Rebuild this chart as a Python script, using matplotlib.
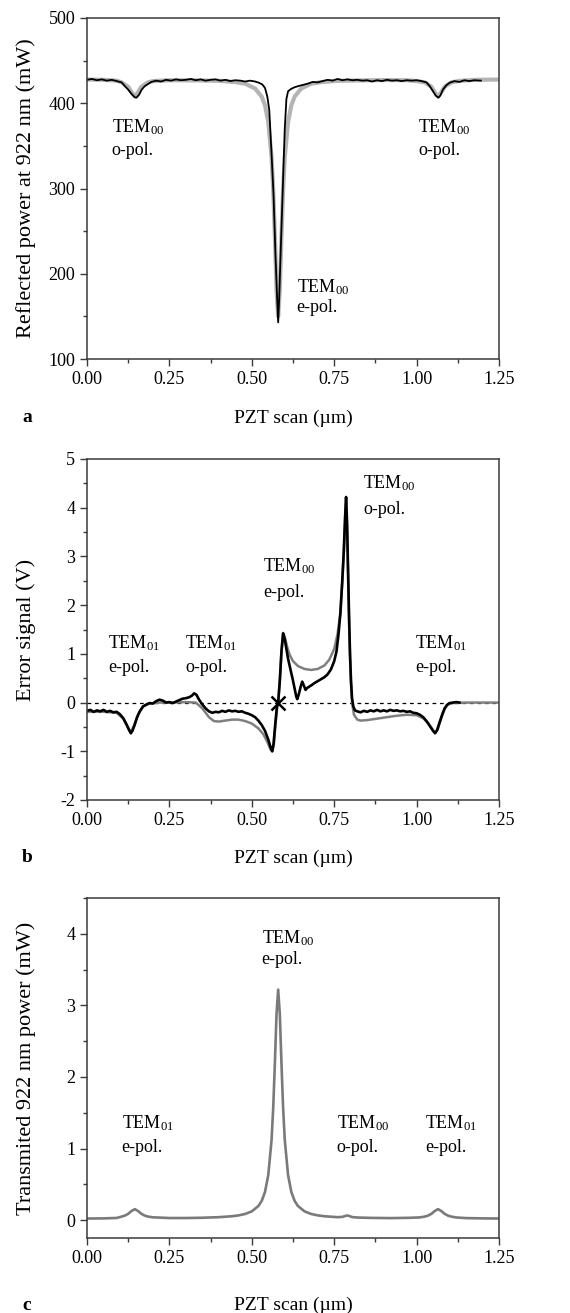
import matplotlib
matplotlib.use("Agg")
import matplotlib.pyplot as plt
from matplotlib.ticker import MultipleLocator, FormatStrFormatter

plt.rcParams['font.family'] = ['Liberation Serif', 'DejaVu Serif']
plt.rcParams['mathtext.fontset'] = 'custom'
plt.rcParams['mathtext.rm'] = 'Liberation Serif'
plt.rcParams['mathtext.it'] = 'Liberation Serif:italic'
plt.rcParams['mathtext.default'] = 'rm'

# ---------------- Panel a: reflected power ----------------
xa_exp = [0.000, 0.015, 0.030, 0.045, 0.060, 0.075, 0.090, 0.105, 0.115, 0.125, 0.135, 0.145, 0.150,
          0.158, 0.166, 0.175, 0.185, 0.195, 0.210, 0.225, 0.240, 0.255, 0.270, 0.285, 0.300, 0.315,
          0.330, 0.345, 0.360, 0.375, 0.390, 0.405, 0.420, 0.435, 0.450, 0.465, 0.480, 0.495, 0.510,
          0.522, 0.532, 0.540, 0.547, 0.553, 0.560, 0.566, 0.572, 0.577, 0.580, 0.583, 0.588, 0.594,
          0.600, 0.605, 0.610, 0.618, 0.628, 0.640, 0.655, 0.670, 0.685, 0.700, 0.715, 0.730, 0.745,
          0.760, 0.775, 0.790, 0.805, 0.820, 0.835, 0.850, 0.865, 0.880, 0.895, 0.910, 0.925, 0.940,
          0.955, 0.970, 0.985, 1.000, 1.015, 1.030, 1.040, 1.050, 1.058, 1.066, 1.072, 1.080, 1.090,
          1.100, 1.115, 1.130, 1.145, 1.160, 1.175, 1.195]
ya_exp = [427.5, 428.5, 427.0, 428.0, 426.5, 427.5, 426.0, 424.5, 420.0, 416.0, 411.0, 407.0, 406.5,
          410.0, 416.0, 420.0, 422.5, 425.0, 426.5, 425.5, 427.5, 426.5, 428.0, 427.0, 427.5, 428.5,
          427.0, 428.0, 426.5, 427.5, 428.0, 426.5, 427.5, 426.0, 427.0, 426.5, 425.5, 426.5, 425.5,
          424.0, 422.0, 418.0, 408.0, 392.0, 340.0, 292.0, 220.0, 170.0, 143.0, 170.0, 230.0, 300.0,
          370.0, 405.0, 414.0, 416.5, 418.5, 420.0, 421.5, 423.0, 425.0, 424.5, 426.0, 427.5, 426.5,
          428.5, 427.0, 428.0, 427.0, 427.5, 426.5, 427.0, 425.5, 427.0, 426.0, 427.5, 426.5, 427.0,
          426.0, 427.0, 426.5, 427.0, 426.0, 424.5, 420.0, 414.0, 409.0, 406.5, 409.0, 416.0, 421.0,
          424.0, 426.0, 425.0, 427.0, 426.0, 427.0, 426.5]

xa_fit = [0.00, 0.05, 0.09, 0.105, 0.125, 0.135, 0.145, 0.155, 0.165, 0.185, 0.20, 0.25, 0.33, 0.40,
          0.45, 0.48, 0.51, 0.53, 0.54, 0.55, 0.56, 0.565, 0.57, 0.575, 0.58, 0.585, 0.59, 0.595, 0.60,
          0.61, 0.62, 0.63, 0.65, 0.68, 0.71, 0.76, 0.83, 0.90, 0.97, 1.00, 1.025, 1.045, 1.055, 1.065,
          1.075, 1.085, 1.105, 1.13, 1.18, 1.25]
ya_fit = [427.8, 427.5, 426.5, 424.5, 419.3, 413.0, 408.0, 413.0, 419.3, 424.5, 426.0, 427.0, 426.8,
          426.3, 424.8, 422.9, 417.3, 407.8, 397.7, 378.0, 336.6, 298.5, 244.0, 181.0, 150.0, 181.0,
          244.0, 298.5, 336.6, 378.0, 397.7, 407.8, 417.3, 422.9, 424.8, 426.3, 426.8, 427.2, 427.0,
          426.0, 424.5, 419.3, 413.0, 408.0, 413.0, 419.3, 424.5, 426.3, 427.5, 427.8]

# ---------------- Panel b: error signal ----------------
xb_exp = [0.00, 0.01, 0.02, 0.03, 0.04, 0.05, 0.06, 0.07, 0.08, 0.09, 0.10, 0.11, 0.12, 0.128, 0.133,
          0.138, 0.145, 0.152, 0.16, 0.17, 0.18, 0.19, 0.20, 0.21, 0.22, 0.23, 0.24, 0.25, 0.26, 0.27,
          0.28, 0.29, 0.30, 0.31, 0.318, 0.325, 0.332, 0.34, 0.35, 0.36, 0.37, 0.38, 0.39, 0.40, 0.41,
          0.42, 0.43, 0.44, 0.45, 0.46, 0.47, 0.48, 0.49, 0.50, 0.51, 0.52, 0.53, 0.54, 0.55, 0.557,
          0.562, 0.566, 0.571, 0.576, 0.580, 0.585, 0.590, 0.595, 0.60, 0.605, 0.61, 0.615, 0.62, 0.625,
          0.63, 0.635, 0.638, 0.643, 0.648, 0.653, 0.658, 0.663, 0.668, 0.675, 0.682, 0.69, 0.70, 0.71,
          0.72, 0.73, 0.74, 0.75, 0.757, 0.763, 0.769, 0.774, 0.779, 0.783, 0.786, 0.789, 0.792, 0.795,
          0.798, 0.801, 0.804, 0.808, 0.813, 0.82, 0.83, 0.84, 0.85, 0.86, 0.87, 0.88, 0.89, 0.90, 0.91,
          0.92, 0.93, 0.94, 0.95, 0.96, 0.97, 0.98, 0.99, 1.00, 1.01, 1.02, 1.03, 1.04, 1.05, 1.056,
          1.062, 1.07, 1.078, 1.085, 1.092, 1.10, 1.11, 1.12, 1.13]
yb_exp = [-0.17, -0.15, -0.19, -0.16, -0.18, -0.15, -0.19, -0.17, -0.20, -0.19, -0.24, -0.32, -0.45,
          -0.57, -0.63, -0.58, -0.45, -0.30, -0.18, -0.08, -0.04, -0.01, -0.02, 0.03, 0.06, 0.04, 0.00,
          0.01, -0.01, 0.02, 0.05, 0.08, 0.09, 0.11, 0.14, 0.19, 0.16, 0.06, -0.04, -0.12, -0.18, -0.21,
          -0.19, -0.20, -0.17, -0.19, -0.16, -0.18, -0.17, -0.19, -0.18, -0.21, -0.23, -0.26, -0.30,
          -0.37, -0.46, -0.58, -0.76, -0.92, -1.00, -0.85, -0.45, -0.10, 0.00, 0.45, 1.05, 1.42, 1.30,
          1.10, 0.90, 0.75, 0.60, 0.45, 0.28, 0.12, 0.07, 0.18, 0.32, 0.43, 0.35, 0.26, 0.30, 0.33,
          0.36, 0.40, 0.44, 0.48, 0.52, 0.58, 0.68, 0.85, 1.05, 1.40, 1.85, 2.45, 3.10, 3.80, 4.22,
          3.70, 2.70, 1.80, 1.00, 0.45, 0.10, -0.08, -0.16, -0.18, -0.20, -0.17, -0.19, -0.16, -0.18,
          -0.15, -0.18, -0.16, -0.18, -0.15, -0.17, -0.16, -0.18, -0.17, -0.19, -0.18, -0.21, -0.22,
          -0.25, -0.30, -0.38, -0.48, -0.58, -0.63, -0.57, -0.40, -0.24, -0.12, -0.05, -0.01, 0.00,
          0.01, 0.00]

xb_fit = [0.00, 0.05, 0.09, 0.11, 0.125, 0.133, 0.142, 0.155, 0.17, 0.19, 0.22, 0.26, 0.30, 0.33,
          0.35, 0.37, 0.385, 0.40, 0.42, 0.44, 0.46, 0.48, 0.50, 0.52, 0.535, 0.548, 0.557, 0.562,
          0.567, 0.572, 0.577, 0.580, 0.585, 0.590, 0.595, 0.60, 0.607, 0.615, 0.625, 0.64, 0.66,
          0.68, 0.70, 0.72, 0.735, 0.75, 0.76, 0.768, 0.775, 0.78, 0.784, 0.786, 0.789, 0.792, 0.796,
          0.80, 0.804, 0.81, 0.82, 0.83, 0.85, 0.88, 0.91, 0.94, 0.97, 1.00, 1.02, 1.035, 1.048,
          1.056, 1.064, 1.075, 1.085, 1.095, 1.11, 1.15, 1.25]
yb_fit = [-0.19, -0.19, -0.21, -0.33, -0.52, -0.60, -0.48, -0.25, -0.08, -0.02, 0.00, 0.00, 0.01,
          0.00, -0.12, -0.30, -0.38, -0.39, -0.37, -0.35, -0.35, -0.38, -0.43, -0.53, -0.65, -0.82,
          -0.97, -1.00, -0.85, -0.45, -0.10, 0.00, 0.45, 1.05, 1.43, 1.35, 1.15, 0.98, 0.85, 0.75,
          0.69, 0.67, 0.69, 0.76, 0.88, 1.10, 1.40, 1.80, 2.50, 3.20, 3.90, 4.10, 3.60, 2.60, 1.40,
          0.50, 0.00, -0.25, -0.35, -0.37, -0.36, -0.33, -0.30, -0.27, -0.25, -0.26, -0.32, -0.42,
          -0.55, -0.62, -0.55, -0.32, -0.13, -0.04, -0.01, 0.00, 0.00]
lock_point = (0.58, 0.0)

# ---------------- Panel c: transmitted power ----------------
xc = [0.00, 0.05, 0.09, 0.105, 0.115, 0.125, 0.135, 0.145, 0.155, 0.165, 0.175, 0.185, 0.20, 0.25,
      0.30, 0.35, 0.40, 0.44, 0.46, 0.48, 0.50, 0.52, 0.53, 0.54, 0.55, 0.56, 0.565, 0.57, 0.575,
      0.58, 0.585, 0.59, 0.595, 0.60, 0.61, 0.62, 0.63, 0.64, 0.66, 0.68, 0.70, 0.72, 0.76, 0.775,
      0.785, 0.79, 0.795, 0.805, 0.82, 0.86, 0.92, 0.98, 1.01, 1.025, 1.035, 1.045, 1.055, 1.065,
      1.075, 1.085, 1.095, 1.105, 1.12, 1.15, 1.20, 1.25]
yc = [0.022, 0.024, 0.030, 0.049, 0.063, 0.088, 0.127, 0.153, 0.127, 0.088, 0.063, 0.049, 0.039,
      0.029, 0.029, 0.033, 0.041, 0.054, 0.066, 0.086, 0.122, 0.197, 0.268, 0.392, 0.63, 1.12, 1.57,
      2.19, 2.88, 3.22, 2.88, 2.19, 1.57, 1.12, 0.63, 0.392, 0.268, 0.197, 0.122, 0.086, 0.066,
      0.054, 0.041, 0.045, 0.060, 0.065, 0.058, 0.042, 0.036, 0.031, 0.028, 0.032, 0.038, 0.049,
      0.063, 0.088, 0.127, 0.153, 0.127, 0.088, 0.063, 0.049, 0.037, 0.028, 0.024, 0.022]

xticks = [0.00, 0.25, 0.50, 0.75, 1.00, 1.25]

W, H = 570, 1313
fig = plt.figure(figsize=(W / 100, H / 100), dpi=100)

spine_col = '#3a3a3a'
TICK_FS = 13
XLAB_FS = 14
YLAB_FS = 16
ANN_FS = 13
LEFT, RIGHT = 87, 499


def make_axes(top_px, bot_px):
    ax = fig.add_axes([LEFT / W, 1 - bot_px / H, (RIGHT - LEFT) / W, (bot_px - top_px) / H])
    for s in ax.spines.values():
        s.set_color(spine_col)
        s.set_linewidth(1.1)
    ax.tick_params(which='both', direction='out', top=False, right=False, colors=spine_col,
                   labelcolor='black', labelsize=TICK_FS, width=1.0)
    ax.tick_params(which='major', length=5)
    ax.tick_params(which='minor', length=3)
    ax.set_xlim(0, 1.25)
    ax.set_xticks(xticks)
    ax.xaxis.set_minor_locator(MultipleLocator(0.125))
    ax.xaxis.set_major_formatter(FormatStrFormatter('%.2f'))
    ax.set_xlabel('PZT scan (µm)', fontsize=XLAB_FS)
    return ax


def finish(ax, top_px, bot_px, label_center_px, letter):
    h = bot_px - top_px
    ax.xaxis.set_label_coords(0.5, -(label_center_px - 8 - bot_px) / h)
    ax.yaxis.set_label_coords(-(LEFT - 36) / (RIGHT - LEFT), 0.5)
    fig.text(27 / W, 1 - label_center_px / H, letter, fontsize=XLAB_FS, fontweight='bold',
             ha='center', va='center')


def label(ax, x, y1, y2, sub, pol):
    ax.text(x, y1, 'TEM$_{' + sub + '}$', fontsize=ANN_FS, ha='left', va='center')
    ax.text(x, y2, pol, fontsize=ANN_FS, ha='left', va='center')


# Panel a
axa = make_axes(18, 359)
axa.plot(xa_fit, ya_fit, color='#b4b4b4', lw=3.0, solid_capstyle='butt')
axa.plot(xa_exp, ya_exp, color='black', lw=1.3)
axa.set_ylim(100, 500)
axa.yaxis.set_major_locator(MultipleLocator(100))
axa.yaxis.set_minor_locator(MultipleLocator(50))
axa.set_ylabel('Reflected power at 922 nm (mW)', fontsize=YLAB_FS)
label(axa, 0.075, 372, 345, '00', 'o-pol.')
label(axa, 1.005, 372, 345, '00', 'o-pol.')
label(axa, 0.636, 184, 160, '00', 'e-pol.')
finish(axa, 18, 359, 418, 'a')

# Panel b
axb = make_axes(459, 800)
axb.axhline(0, color='black', lw=0.9, ls=(0, (3, 3)))
axb.plot(xb_fit, yb_fit, color='#808080', lw=1.8)
axb.plot(xb_exp, yb_exp, color='black', lw=1.9)
axb.plot([lock_point[0]], [lock_point[1]], marker='x', color='black', ms=10, mew=1.8)
axb.set_ylim(-2, 5)
axb.yaxis.set_major_locator(MultipleLocator(1))
axb.yaxis.set_minor_locator(MultipleLocator(0.5))
axb.yaxis.set_major_formatter(FormatStrFormatter('%d'))
axb.set_ylabel('Error signal (V)', fontsize=YLAB_FS)
label(axb, 0.065, 1.23, 0.72, '01', 'e-pol.')
label(axb, 0.297, 1.23, 0.72, '01', 'o-pol.')
label(axb, 0.995, 1.23, 0.72, '01', 'e-pol.')
label(axb, 0.535, 2.80, 2.26, '00', 'e-pol.')
label(axb, 0.838, 4.51, 3.96, '00', 'o-pol.')
finish(axb, 459, 800, 858, 'b')

# Panel c
axc = make_axes(898, 1238)
axc.plot(xc, yc, color='#7a7a7a', lw=1.9)
axc.set_ylim(-0.25, 4.5)
axc.yaxis.set_major_locator(MultipleLocator(1))
axc.yaxis.set_minor_locator(MultipleLocator(0.5))
axc.yaxis.set_major_formatter(FormatStrFormatter('%d'))
axc.set_ylabel('Transmited 922 nm power (mW)', fontsize=YLAB_FS)
label(axc, 0.53, 3.94, 3.64, '00', 'e-pol.')
label(axc, 0.105, 1.35, 1.02, '01', 'e-pol.')
label(axc, 0.757, 1.35, 1.02, '00', 'o-pol.')
label(axc, 1.026, 1.35, 1.02, '01', 'e-pol.')
finish(axc, 898, 1238, 1305, 'c')

fig.savefig('out.png', dpi=100)
